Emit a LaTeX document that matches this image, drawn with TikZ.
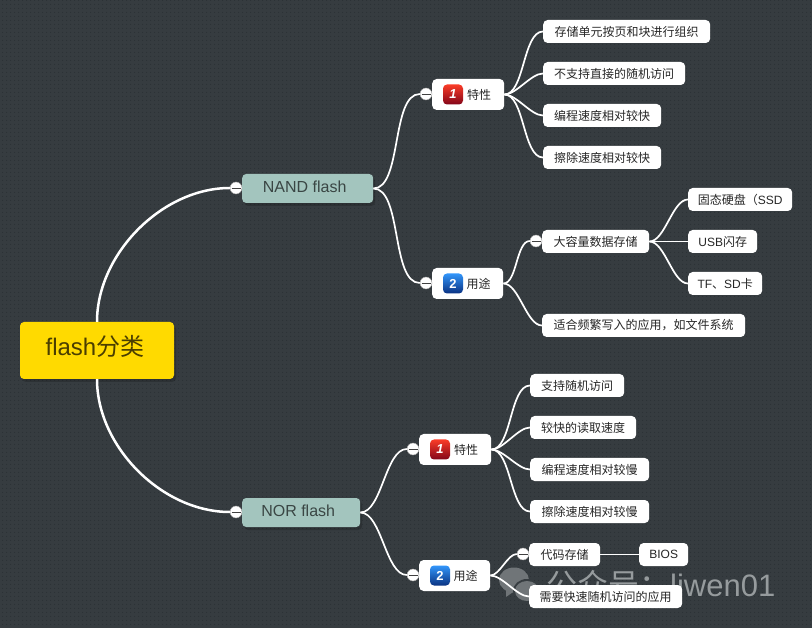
\documentclass[tikz,border=0pt]{standalone}
\usepackage{fontspec}
\setmainfont{Liberation Sans}
\newfontfamily\cjk{Noto Sans CJK SC}
\newfontfamily\lat{Liberation Sans}
\usetikzlibrary{patterns.meta, shadows}
\definecolor{bgcolor}{RGB}{54, 60, 64}
\definecolor{dotcolor}{RGB}{44, 49, 53}
\definecolor{rootcolor}{RGB}{255, 218, 0}
\definecolor{roottext}{RGB}{74, 62, 0}
\definecolor{branchcolor}{RGB}{163, 197, 190}
\definecolor{branchtext}{RGB}{58, 70, 68}
\definecolor{markcolor}{RGB}{150, 155, 157}
\definecolor{redtop}{RGB}{250, 60, 40}
\definecolor{redmid}{RGB}{225, 15, 10}
\definecolor{redlow}{RGB}{130, 5, 25}
\definecolor{bluetop}{RGB}{50, 150, 250}
\definecolor{bluemid}{RGB}{15, 95, 225}
\definecolor{bluelow}{RGB}{10, 50, 130}
\tikzset{
    softshadow/.style={drop shadow={shadow xshift=2pt, shadow yshift=-3pt, fill=black, opacity=0.18}},
    rootbox/.style={fill=rootcolor, text=roottext, rounded corners=4pt, minimum width=154pt, minimum height=57pt, inner sep=0pt, text height=17pt, text depth=6pt, font=\fontsize{24}{28}\selectfont\lat, softshadow},
    branchbox/.style={anchor=west, fill=branchcolor, text=branchtext, rounded corners=4pt, minimum width=#1, minimum height=29pt, inner sep=0pt, text height=12pt, text depth=4pt, font=\fontsize{16}{18}\selectfont\lat, softshadow},
    groupbox/.style={anchor=west, fill=white, text=black!85, rounded corners=4.5pt, minimum width=#1, minimum height=31pt, inner sep=0pt, font=\fontsize{12}{14}\selectfont\cjk},
    leafbox/.style={anchor=west, fill=white, text=black!85, rounded corners=4.5pt, minimum width=#1, minimum height=23pt, inner sep=0pt, font=\fontsize{12}{14}\selectfont\cjk},
    toggle/.style={circle, fill=white, draw=black!35, line width=0.4pt, minimum size=12pt, inner sep=0pt, path picture={\draw[black!75, line width=0.8pt] ([xshift=-4.5pt]path picture bounding box.center) -- ([xshift=4.5pt]path picture bounding box.center);}},
    badge/.style={rounded corners=4pt, minimum size=20pt, inner sep=0pt, text=white, font=\fontsize{13}{14}\selectfont\lat\bfseries},
    redbadge/.style={badge, top color=redtop, middle color=redmid, bottom color=redlow},
    bluebadge/.style={badge, top color=bluetop, middle color=bluemid, bottom color=bluelow},
    bigline/.style={white, line width=2.5pt},
    midline/.style={white, line width=1.7pt},
    smallline/.style={white, line width=1.7pt}
}

\begin{document}
\begin{tikzpicture}[x=1pt, y=-1pt]

    % --- Background ---
    \useasboundingbox (0,0) rectangle (812,628);
    \fill[bgcolor] (0,0) rectangle (812,628);
    \fill[pattern={Dots[distance=4pt, radius=0.7pt]}, pattern color=dotcolor] (0,0) rectangle (812,628);

    % --- Watermark ---
    \fill[markcolor!60!bgcolor] (514,580) ellipse (15 and 12.5);
    \fill[markcolor!60!bgcolor] (506,586) -- (506,597) -- (516,590) -- cycle;
    \fill[bgcolor] (527,591) ellipse (14 and 12);
    \fill[markcolor!60!bgcolor] (527,591) ellipse (12 and 10);
    \node[anchor=west, text=markcolor, inner sep=0pt, font=\fontsize{31}{34}\selectfont] (mark) at (546,585) {{\cjk 公众号：}liwen01};

    % --- Root and main branches ---
    \node[rootbox] (root) at (97,350.5) {flash{\cjk 分类}\kern4pt};
    \node[branchbox=131pt] (nand) at (242,188.5) {NAND flash\kern6pt};
    \node[branchbox=118pt] (nor) at (242,512.5) {NOR flash\kern6pt};
    \node[toggle] (nandtoggle) at (236,188) {};
    \node[toggle] (nortoggle) at (236,512) {};

    % --- NAND flash ---
    \node[groupbox=72pt] (nandfeat) at (432,94.5) {\hspace{22pt}特性};
    \node[groupbox=71pt] (nanduse) at (432,283.5) {\hspace{22pt}用途};
    \node[redbadge] (nandfeaticon) at (453,94.5) {\itshape 1};
    \node[bluebadge] (nanduseicon) at (453,283.5) {2};
    \node[toggle] (nandfeattoggle) at (426,94) {};
    \node[toggle] (nandusetoggle) at (426,283) {};

    \node[leafbox=167pt] (nandfeata) at (543,31.5) {存储单元按页和块进行组织};
    \node[leafbox=142pt] (nandfeatb) at (543,73.5) {不支持直接的随机访问};
    \node[leafbox=118pt] (nandfeatc) at (543,115.5) {编程速度相对较快};
    \node[leafbox=118pt] (nandfeatd) at (543,157.5) {擦除速度相对较快};

    \node[leafbox=107pt] (nandusea) at (542,241.5) {大容量数据存储};
    \node[leafbox=203pt] (nanduseb) at (542,325.5) {适合频繁写入的应用，如文件系统};
    \node[toggle] (nanduseatoggle) at (536,241) {};
    \node[leafbox=104pt] (ssd) at (688,199.5) {固态硬盘（{\lat SSD}};
    \node[leafbox=69pt] (usb) at (688,241.5) {{\lat USB}闪存};
    \node[leafbox=74pt] (tfsd) at (688,283.5) {{\lat TF}、{\lat SD}卡};

    % --- NOR flash ---
    \node[groupbox=72pt] (norfeat) at (419,449.5) {\hspace{22pt}特性};
    \node[groupbox=71pt] (noruse) at (419,575.5) {\hspace{22pt}用途};
    \node[redbadge] (norfeaticon) at (440,449.5) {\itshape 1};
    \node[bluebadge] (noruseicon) at (440,575.5) {2};
    \node[toggle] (norfeattoggle) at (413,449) {};
    \node[toggle] (norusetoggle) at (413,575) {};

    \node[leafbox=94pt] (norfeata) at (530,385.5) {支持随机访问};
    \node[leafbox=106pt] (norfeatb) at (530,427.5) {较快的读取速度};
    \node[leafbox=119pt] (norfeatc) at (530,469.5) {编程速度相对较慢};
    \node[leafbox=119pt] (norfeatd) at (530,511.5) {擦除速度相对较慢};

    \node[leafbox=71pt] (norusea) at (529,554.5) {代码存储};
    \node[leafbox=153pt] (noruseb) at (529,596.5) {需要快速随机访问的应用};
    \node[toggle] (noruseatoggle) at (523,554) {};
    \node[leafbox=49pt] (bios) at (639,554.5) {{\lat BIOS}};

    % --- Connectors ---
    \draw[bigline] (root.north) to[out=90, in=180, looseness=0.92] (nandtoggle.west);
    \draw[bigline] (root.south) to[out=-90, in=180, looseness=0.92] (nortoggle.west);

    \foreach \from/\to in {nand/nandfeattoggle, nand/nandusetoggle, nor/norfeattoggle, nor/norusetoggle}
        \draw[midline] (\from.east) to[out=0, in=180, looseness=0.7] (\to.west);

    \foreach \from/\to in {nandfeat/nandfeata, nandfeat/nandfeatb, nandfeat/nandfeatc, nandfeat/nandfeatd,
        nanduse/nanduseatoggle, nanduse/nanduseb, nandusea/ssd, nandusea/usb, nandusea/tfsd,
        norfeat/norfeata, norfeat/norfeatb, norfeat/norfeatc, norfeat/norfeatd,
        noruse/noruseatoggle, noruse/noruseb, norusea/bios}
        \draw[smallline] (\from.east) to[out=0, in=180, looseness=0.7] (\to.west);

\end{tikzpicture}
\end{document}
